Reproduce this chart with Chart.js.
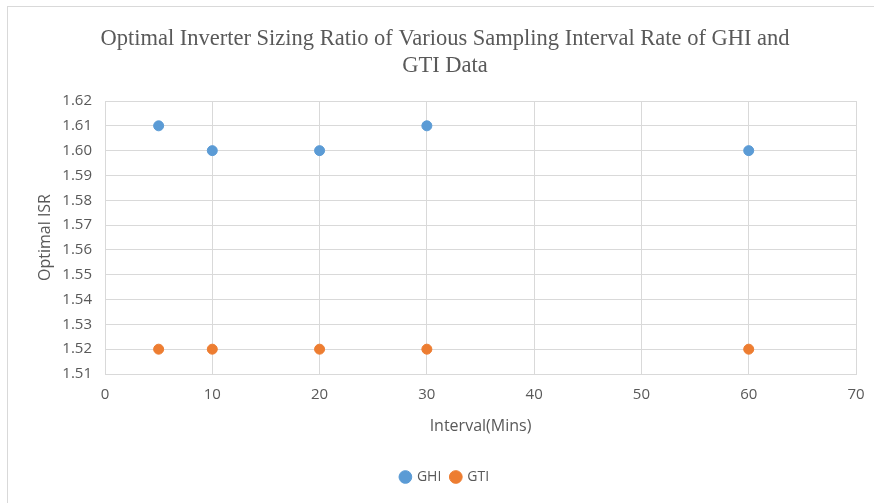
<!DOCTYPE html>
<html>
<head>
<meta charset="utf-8">
<script src="https://cdn.jsdelivr.net/npm/chart.js@4.4.1/dist/chart.umd.min.js"></script>
<style>
  html, body { margin: 0; padding: 0; background: #fff; overflow: hidden; }
  #frame { position: absolute; left: 7px; top: 6px; width: 874px; height: 520px; border: 1px solid #d9d9d9; }
  #wrap { position: absolute; left: 7px; top: 6px; width: 876px; height: 497px; }
</style>
</head>
<body>
<div id="frame"></div>
<div id="wrap"><canvas id="grafico" width="876" height="497"></canvas></div>
<script>
// intervalos de amostragem (min) e ISR otimo
const intervalos = [5, 10, 20, 30, 60];
const isrGHI = [1.61, 1.60, 1.60, 1.61, 1.60];
const isrGTI = [1.52, 1.52, 1.52, 1.52, 1.52];
const titulo = ['Optimal Inverter Sizing Ratio of Various Sampling Interval Rate of GHI and', 'GTI Data'];

const cinza = '#595959';
const grade = '#d9d9d9';

function pontos(ys) {
  return intervalos.map((x, i) => ({ x: x, y: ys[i] }));
}

const ctx = document.getElementById('grafico').getContext('2d');
new Chart(ctx, {
  type: 'scatter',
  data: {
    datasets: [
      { label: 'GHI', data: pontos(isrGHI), backgroundColor: '#5b9bd5', borderColor: '#5b9bd5', pointRadius: 5, pointHoverRadius: 5 },
      { label: 'GTI', data: pontos(isrGTI), backgroundColor: '#ed7d31', borderColor: '#ed7d31', pointRadius: 5, pointHoverRadius: 5 }
    ]
  },
  options: {
    responsive: false,
    animation: false,
    layout: { padding: { top: 0, right: 0, bottom: 9, left: 0 } },
    plugins: {
      title: {
        display: true,
        text: titulo,
        color: cinza,
        font: { family: 'Liberation Serif', size: 22.5, weight: 'normal', lineHeight: 1.2 },
        padding: { top: 20, bottom: 21 }
      },
      legend: {
        position: 'bottom',
        labels: {
          usePointStyle: true,
          pointStyle: 'circle',
          boxWidth: 9,
          boxHeight: 9,
          padding: 10,
          color: cinza,
          font: { family: 'Open Sans', size: 14 }
        }
      },
      tooltip: { enabled: false }
    },
    scales: {
      x: {
        type: 'linear',
        min: 0,
        max: 70,
        ticks: { stepSize: 10, padding: 12, color: cinza, font: { family: 'Open Sans', size: 15 } },
        grid: { color: grade, drawTicks: false },
        border: { color: grade },
        title: {
          display: true,
          text: 'Interval(Mins)',
          color: cinza,
          font: { family: 'Open Sans', size: 16 },
          padding: { top: 4, bottom: 24 }
        },
        afterFit: function (escala) { escala.height = 86; }
      },
      y: {
        min: 1.51,
        max: 1.62,
        ticks: {
          stepSize: 0.01,
          padding: 13,
          color: cinza,
          font: { family: 'Open Sans', size: 15 },
          callback: v => Number(v).toFixed(2)
        },
        grid: { color: grade, drawTicks: false },
        border: { color: grade },
        title: {
          display: true,
          text: 'Optimal ISR',
          color: cinza,
          font: { family: 'Open Sans', size: 16 },
          padding: { top: 29, bottom: 0 }
        },
        afterFit: function (escala) { escala.width = 98; }
      },
      // eixo vazio a direita, so para a margem do grafico
      margem: {
        position: 'right',
        display: true,
        grid: { display: false },
        border: { display: false },
        ticks: { display: false },
        afterFit: function (escala) { escala.width = 27; }
      }
    }
  }
});
</script>
</body>
</html>
